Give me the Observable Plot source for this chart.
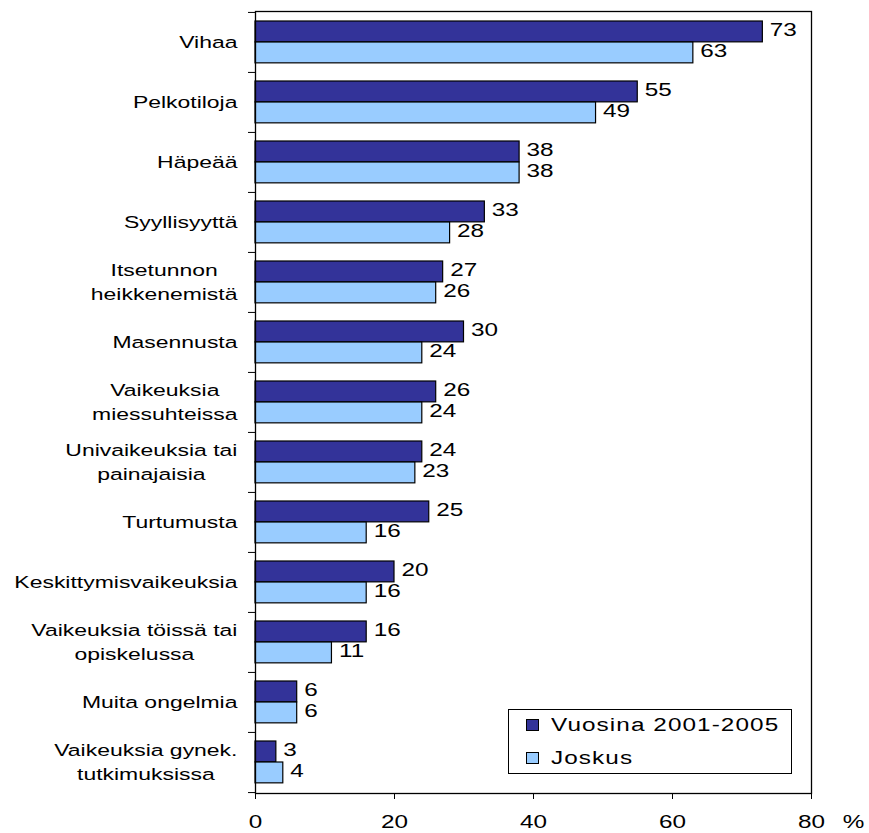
<!DOCTYPE html>
<html>
<head>
<meta charset="utf-8">
<script src="https://cdn.jsdelivr.net/npm/d3@7"></script>
<script src="https://cdn.jsdelivr.net/npm/@observablehq/plot@0.6"></script>
<style>
  body { margin: 0; background: #fff; }
  #chart { position: relative; width: 869px; height: 833px; font-family: 'Liberation Sans', Arial, sans-serif; }
  #legend { position: absolute; left: 508px; top: 709px; width: 282px; height: 63px; border: 1px solid #000; background: #fff; font-size: 18px; }
  .row { position: absolute; left: 17px; display: flex; align-items: center; }
  .sw { width: 11px; height: 10px; border: 1px solid #000; margin-right: 12px; flex: none; }
  .lt { display: inline-block; transform: scaleX(1.35); transform-origin: left center; white-space: nowrap; letter-spacing: 0.8px; }
</style>
</head>
<body>
<div id="chart"></div>
<script>
const categories = ["Vihaa", "Pelkotiloja", "Häpeää", "Syyllisyyttä", "Itsetunnon\nheikkenemistä", "Masennusta", "Vaikeuksia\nmiessuhteissa", "Univaikeuksia tai\npainajaisia", "Turtumusta", "Keskittymisvaikeuksia", "Vaikeuksia töissä tai\nopiskelussa", "Muita ongelmia", "Vaikeuksia gynek.\ntutkimuksissa"];
const recentValues = [73, 55, 38, 33, 27, 30, 26, 24, 25, 20, 16, 6, 3];
const everValues = [63, 49, 38, 28, 26, 24, 24, 23, 16, 16, 11, 6, 4];
const seriesNames = ["Vuosina 2001-2005", "Joskus"];
const seriesColors = ["#333399", "#99CCFF"];
const xTicks = [0, 20, 40, 60, 80];
const unitLabel = "%";

const W = 869, H = 833, mt = 11, mb = 40, ml = 255, mr = 58;
const band = (H - mt - mb) / categories.length;
const inset = 9, barH = 21;
const labelFont = 17, stretch = 1.35;
const fontFamily = "'Liberation Sans', Arial, sans-serif";

const recentRows = categories.map((c, i) => ({category: c, value: recentValues[i], series: seriesNames[0]}));
const everRows = categories.map((c, i) => ({category: c, value: everValues[i], series: seriesNames[1]}));

const ctx = document.createElement("canvas").getContext("2d");
ctx.font = `${labelFont}px 'Liberation Sans'`;
const blockWidth = c => stretch * d3.max(c.split("\n"), l => ctx.measureText(l).width);

const labelMarks = categories.map(c => Plot.text([c], {
  x: 0, y: d => d, text: d => d,
  textAnchor: "middle", lineAnchor: "middle", lineHeight: 1.4,
  dx: -(18 + blockWidth(c) / 2), dy: -2, fontSize: labelFont, fill: "black"
}));

const plot = Plot.plot({
  width: W, height: H,
  marginTop: mt, marginBottom: mb, marginLeft: ml, marginRight: mr,
  style: {fontFamily, fontSize: "18px", color: "black", background: "white"},
  x: {domain: [0, 80], ticks: xTicks, tickSize: 6, tickPadding: 16, label: null},
  y: {domain: categories, axis: null, padding: 0},
  marks: [
    Plot.barX(recentRows, {x: "value", y: "category", fill: seriesColors[0], stroke: "black", strokeWidth: 1.2, insetTop: inset, insetBottom: band - inset - barH}),
    Plot.barX(everRows, {x: "value", y: "category", fill: seriesColors[1], stroke: "black", strokeWidth: 1.2, insetTop: inset + barH, insetBottom: band - inset - 2 * barH}),
    Plot.text(recentRows, {x: "value", y: "category", text: d => String(d.value), dx: 7, dy: -(band / 2 - inset - barH / 2) - 2, textAnchor: "start", lineAnchor: "middle", fontSize: 18, fill: "black"}),
    Plot.text(everRows, {x: "value", y: "category", text: d => String(d.value), dx: 7, dy: (inset + 1.5 * barH) - band / 2 - 2, textAnchor: "start", lineAnchor: "middle", fontSize: 18, fill: "black"}),
    Plot.frame({stroke: "black", strokeWidth: 1.3}),
    Plot.ruleY(categories, {x1: 0, x2: 0, insetLeft: -7, dy: -band / 2, stroke: "black"}),
    Plot.ruleY([categories[categories.length - 1]], {x1: 0, x2: 0, insetLeft: -7, dy: band / 2, stroke: "black"}),
    ...labelMarks,
    Plot.text([unitLabel], {frameAnchor: "bottom-right", textAnchor: "middle", dx: 42, dy: 29, lineAnchor: "middle", fontSize: 18, fill: "black"})
  ]
});

// horizontally stretch every glyph about its own anchor, like the reference rendering
d3.select(plot).selectAll("text").each(function () {
  const t = this.getAttribute("transform") || "";
  this.setAttribute("transform", (t + ` scale(${stretch},1)`).trim());
});

const chart = document.getElementById("chart");
chart.appendChild(plot);

const legend = document.createElement("div");
legend.id = "legend";
seriesNames.forEach((name, i) => {
  const row = document.createElement("div");
  row.className = "row";
  row.style.top = (3 + i * 33) + "px";
  row.style.height = "24px";
  const sw = document.createElement("div");
  sw.className = "sw";
  sw.style.background = seriesColors[i];
  const t = document.createElement("span");
  t.className = "lt";
  t.textContent = name;
  row.appendChild(sw);
  row.appendChild(t);
  legend.appendChild(row);
});
chart.appendChild(legend);
</script>
</body>
</html>
